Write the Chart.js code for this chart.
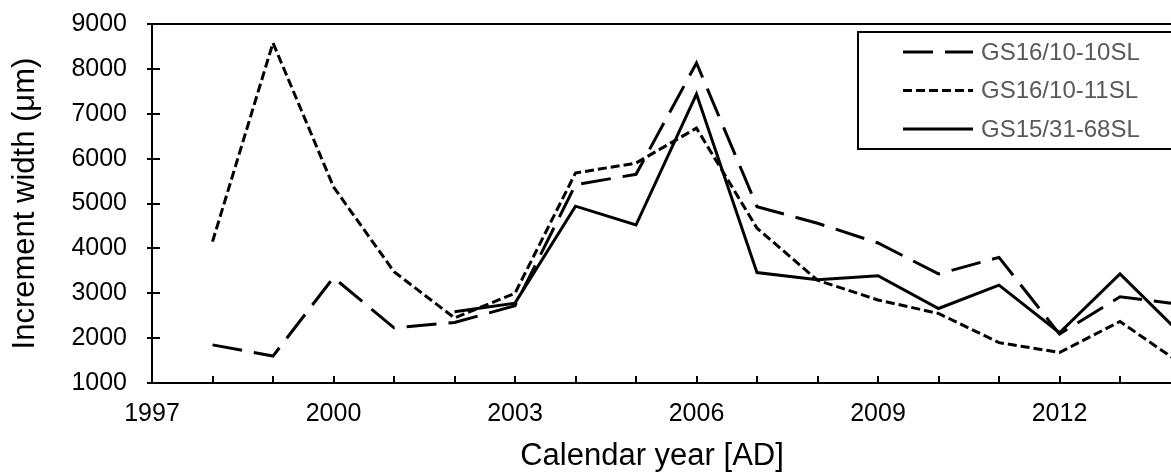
<!DOCTYPE html>
<html>
<head>
<meta charset="utf-8">
<title>Increment width</title>
<script src="https://cdn.jsdelivr.net/npm/chart.js@4.4.1/dist/chart.umd.min.js"></script>
<style>
  html, body { margin: 0; padding: 0; background: #fff; }
  #wrap { width: 1171px; height: 475px; overflow: hidden; }
</style>
</head>
<body>
<div id="wrap"><canvas id="incChart" width="1304" height="475"></canvas></div>
<script>
// increment widths per calendar year (µm)
const years = [1998, 1999, 2000, 2001, 2002, 2003, 2004, 2005, 2006, 2007, 2008, 2009, 2010, 2011, 2012, 2013, 2014];
const gs1610_10 = [1850, 1600, 3350, 2230, 2350, 2720, 5420, 5650, 8130, 4930, 4560, 4120, 3430, 3800, 2090, 2920, 2750];
const gs1610_11 = [4150, 8580, 5370, 3480, 2450, 3000, 5680, 5900, 6680, 4450, 3290, 2850, 2550, 1900, 1680, 2370, 1440];
const gs1531_68 = [null, null, null, null, 2590, 2780, 4940, 4520, 7440, 3460, 3300, 3390, 2660, 3180, 2120, 3430, 2100];
const seriesNames = ['GS16/10-10SL', 'GS16/10-11SL', 'GS15/31-68SL'];
const xTickLabels = [1997, 2000, 2003, 2006, 2009, 2012, 2015];
const yTicks = [1000, 2000, 3000, 4000, 5000, 6000, 7000, 8000, 9000];

const FONT = "'Liberation Sans', Arial, sans-serif";

const toPoints = vals => years.map((yr, i) => ({ x: yr, y: vals[i] }));

// plot frame plus the little tick marks (y: crossing, x: inside)
const frameTicks = {
  id: 'frameTicks',
  afterDatasetsDraw(chart) {
    const { ctx, chartArea: a, scales: { x, y } } = chart;
    ctx.save();
    ctx.strokeStyle = '#000';
    ctx.lineWidth = 2;
    ctx.strokeRect(a.left, a.top, a.right - a.left, a.bottom - a.top);
    ctx.beginPath();
    yTicks.forEach(v => {
      const py = Math.round(y.getPixelForValue(v));
      ctx.moveTo(a.left - 5, py);
      ctx.lineTo(a.left + 8, py);
    });
    for (let yr = x.min + 1; yr < x.max; yr++) {
      const px = Math.round(x.getPixelForValue(yr));
      ctx.moveTo(px, a.bottom);
      ctx.lineTo(px, a.bottom - 7);
    }
    ctx.stroke();
    ctx.restore();
  }
};

// boxed legend in the top right corner of the plot
const boxLegend = {
  id: 'boxLegend',
  afterDraw(chart) {
    const { ctx, chartArea: a } = chart;
    const bx = a.left + 706, by = a.top + 8;
    ctx.save();
    ctx.fillStyle = '#fff';
    ctx.fillRect(bx, by, 420, 117);
    ctx.strokeStyle = '#000';
    ctx.lineWidth = 2;
    ctx.strokeRect(bx, by, 420, 117);
    ctx.font = '24px ' + FONT;
    ctx.textBaseline = 'middle';
    ctx.fillStyle = '#595959';
    chart.data.datasets.forEach((ds, i) => {
      const ly = by + 20 + i * 38.5;
      ctx.beginPath();
      ctx.strokeStyle = ds.borderColor;
      ctx.lineWidth = ds.borderWidth;
      ctx.setLineDash(ds.borderDash || []);
      ctx.moveTo(bx + 45, ly);
      ctx.lineTo(bx + 115, ly);
      ctx.stroke();
      ctx.fillText(ds.label, bx + 123, ly + 1);
    });
    ctx.restore();
  }
};

new Chart(document.getElementById('incChart'), {
  type: 'line',
  data: {
    datasets: [
      { label: seriesNames[0], data: toPoints(gs1610_10), borderColor: '#000', borderWidth: 3, borderDash: [30, 12] },
      { label: seriesNames[1], data: toPoints(gs1610_11), borderColor: '#000', borderWidth: 3, borderDash: [9, 4] },
      { label: seriesNames[2], data: toPoints(gs1531_68), borderColor: '#000', borderWidth: 3 }
    ]
  },
  options: {
    responsive: false,
    animation: false,
    devicePixelRatio: 1,
    layout: { padding: { left: 0, right: 0, top: 24, bottom: 0 } },
    elements: {
      point: { radius: 0, hoverRadius: 0 },
      line: { tension: 0, borderCapStyle: 'butt', borderJoinStyle: 'miter' }
    },
    plugins: {
      legend: { display: false },
      tooltip: { enabled: false },
      title: {
        display: true,
        position: 'bottom',
        text: 'Calendar year [AD]',
        color: '#000',
        font: { family: FONT, size: 31, weight: 'normal', lineHeight: 1 },
        padding: { top: 0, bottom: 3 }
      }
    },
    scales: {
      x: {
        type: 'linear',
        min: 1997,
        max: 2015,
        afterFit: s => { s.height = 58; },
        grid: { display: false, drawTicks: false },
        border: { display: false },
        ticks: {
          stepSize: 1,
          autoSkip: false,
          maxRotation: 0,
          padding: 16,
          color: '#000',
          font: { family: FONT, size: 25 },
          callback: v => xTickLabels.includes(v) ? String(v) : ''
        }
      },
      y: {
        min: 1000,
        max: 9000,
        afterFit: s => { s.width = 152; },
        // tick marks come from the frameTicks plugin; tickLength only spaces the labels
        grid: { display: false, drawTicks: true, tickLength: 22 },
        border: { display: false },
        ticks: {
          stepSize: 1000,
          padding: 3,
          color: '#000',
          font: { family: FONT, size: 25 },
          callback: v => String(v)
        },
        title: {
          display: true,
          text: 'Increment width (μm)',
          color: '#000',
          font: { family: FONT, size: 31, lineHeight: 1.2 },
          padding: { top: 7, bottom: 0 }
        }
      },
      // empty strip on the right so the plot ends where the chart box does
      edge: {
        position: 'right',
        afterFit: s => { s.width = 63; },
        grid: { display: false, drawTicks: false },
        border: { display: false },
        ticks: { display: false }
      }
    }
  },
  plugins: [frameTicks, boxLegend]
});
</script>
</body>
</html>
